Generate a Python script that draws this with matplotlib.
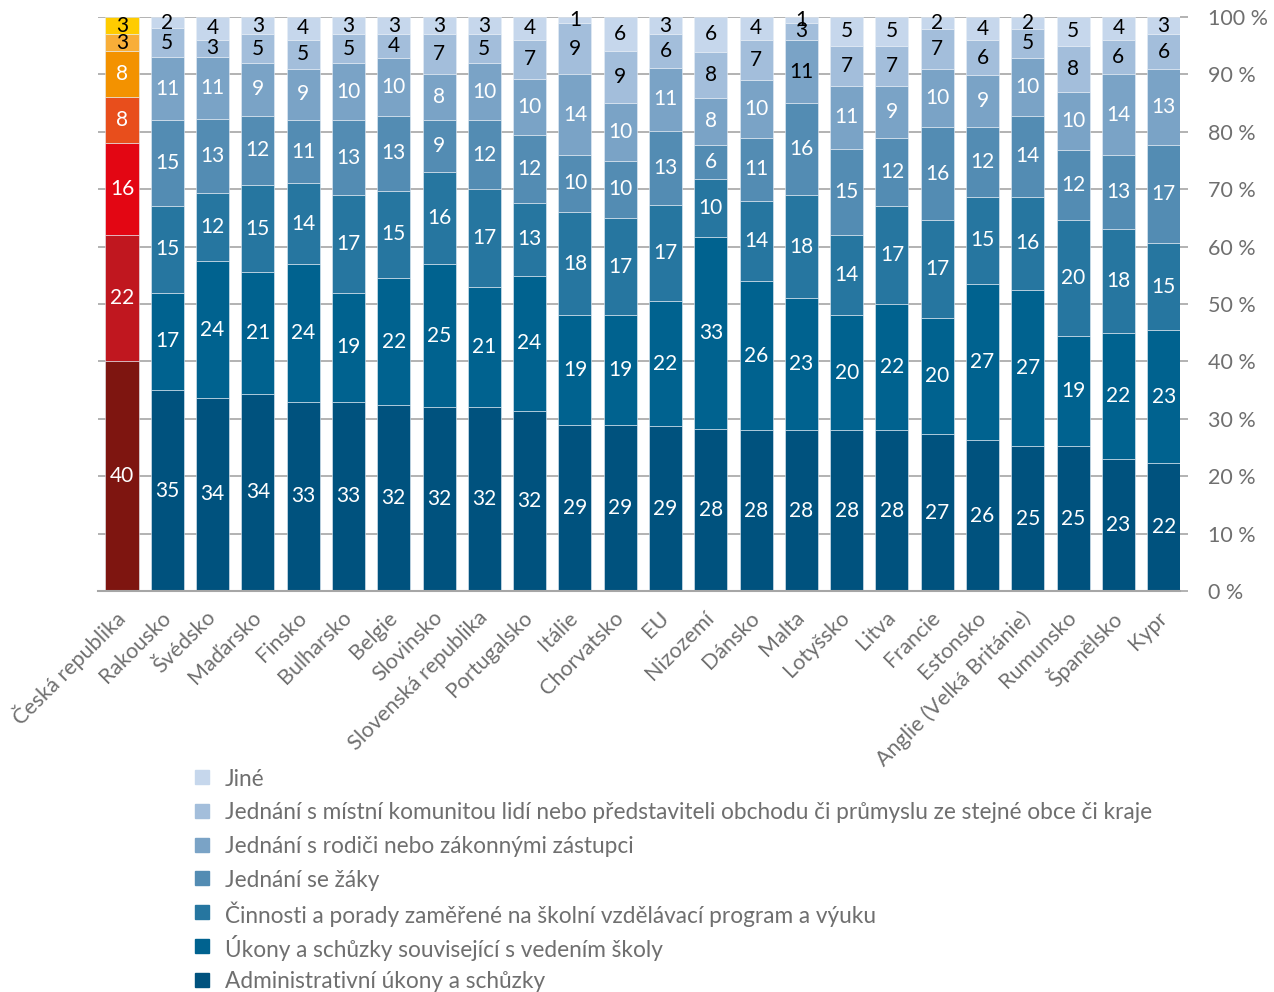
import matplotlib.pyplot as plt
from matplotlib.patches import Rectangle
import numpy as np

plt.rcParams['font.family'] = ['Lato', 'DejaVu Sans']

countries = ['Česká republika', 'Rakousko', 'Švédsko', 'Maďarsko', 'Finsko', 'Bulharsko',
             'Belgie', 'Slovinsko', 'Slovenská republika', 'Portugalsko', 'Itálie',
             'Chorvatsko', 'EU', 'Nizozemí', 'Dánsko', 'Malta', 'Lotyšsko', 'Litva',
             'Francie', 'Estonsko', 'Anglie (Velká Británie)', 'Rumunsko', 'Španělsko', 'Kypr']

series_names = ['Administrativní úkony a schůzky',
                'Úkony a schůzky související s vedením školy',
                'Činnosti a porady zaměřené na školní vzdělávací program a výuku',
                'Jednání se žáky',
                'Jednání s rodiči nebo zákonnými zástupci',
                'Jednání s místní komunitou lidí nebo představiteli obchodu či průmyslu ze stejné obce či kraje',
                'Jiné']

admin    = [40, 35, 34, 34, 33, 33, 32, 32, 32, 32, 29, 29, 29, 28, 28, 28, 28, 28, 27, 26, 25, 25, 23, 22]
vedeni   = [22, 17, 24, 21, 24, 19, 22, 25, 21, 24, 19, 19, 22, 33, 26, 23, 20, 22, 20, 27, 27, 19, 22, 23]
cinnosti = [16, 15, 12, 15, 14, 17, 15, 16, 17, 13, 18, 17, 17, 10, 14, 18, 14, 17, 17, 15, 16, 20, 18, 15]
zaci     = [8, 15, 13, 12, 11, 13, 13, 9, 12, 12, 10, 10, 13, 6, 11, 16, 15, 12, 16, 12, 14, 12, 13, 17]
rodice   = [8, 11, 11, 9, 9, 10, 10, 8, 10, 10, 14, 10, 11, 8, 10, 11, 11, 9, 10, 9, 10, 10, 14, 13]
komunita = [3, 5, 3, 5, 5, 5, 4, 7, 5, 7, 9, 9, 6, 8, 7, 3, 7, 7, 7, 6, 5, 8, 6, 6]
jine     = [3, 2, 4, 3, 4, 3, 3, 3, 3, 4, 1, 6, 3, 6, 4, 1, 5, 5, 2, 4, 2, 5, 4, 3]

blues = ['#00527E', '#00628F', '#2676A0', '#538CB3', '#7AA3C6', '#A3BEDB', '#C6D7EC']
czech_cols = ['#7E1510', '#C0171F', '#E30613', '#E84E1C', '#F39200', '#F8AE38', '#FFCC00']

data = np.array([admin, vedeni, cinnosti, zaci, rodice, komunita, jine], dtype=float)
pct = data / data.sum(axis=0) * 100  # 100% stacked

fig = plt.figure(figsize=(12.74, 9.92), dpi=100)
ax = fig.add_axes([98/1274, 1-591/992, 1082/1274, 574/992])

x = np.arange(len(countries))
w = 0.73
bottom = np.zeros(len(countries))
for i in range(len(series_names)):
    cols = [czech_cols[i]] + [blues[i]] * (len(countries) - 1)
    ax.bar(x, pct[i], w, bottom=bottom, color=cols, edgecolor='#E6EEF6',
           linewidth=0.4, zorder=2)
    for j in range(len(countries)):
        dark = i >= 5 or (j == 15 and i == 4)
        ax.text(x[j], bottom[j] + pct[i][j] / 2, str(int(data[i][j])),
                ha='center', va='center', fontsize=15,
                color='black' if dark else 'white', zorder=3)
    bottom += pct[i]

ax.set_xlim(-0.53, 23.36)
ax.set_ylim(0, 100)
ax.yaxis.tick_right()
ax.set_yticks(range(0, 101, 10))
ax.set_yticklabels(['%d %%' % v for v in range(0, 101, 10)])
ax.tick_params(axis='y', length=6, width=1.2, color='#A6A6A6', labelsize=15.5,
               labelcolor='#6F6F6F', pad=14)
ax.yaxis.grid(True, color='#A6A6A6', linewidth=1.2, zorder=0)
ax.set_axisbelow(True)

ax.set_xticks(x)
ax.set_xticklabels(countries, rotation=45, ha='right', va='center', rotation_mode='anchor')
ax.tick_params(axis='x', length=0, labelsize=15.5, labelcolor='#6F6F6F', pad=17)

for s in ['top', 'left', 'right']:
    ax.spines[s].set_visible(False)
ax.spines['bottom'].set_color('#A6A6A6')
ax.spines['bottom'].set_linewidth(1.5)

# legend, top row = last series
for k, i in enumerate(range(len(series_names) - 1, -1, -1)):
    yc = 1 - (777 + k * 33.8) / 992
    fig.patches.append(Rectangle((195/1274, yc - 7/992), 14/1274, 14/992,
                                 transform=fig.transFigure, color=blues[i], figure=fig))
    fig.text(225/1274, yc, series_names[i], ha='left', va='center_baseline',
             fontsize=16.3, color='#6F6F6F')

plt.savefig('out.png', dpi=100)
